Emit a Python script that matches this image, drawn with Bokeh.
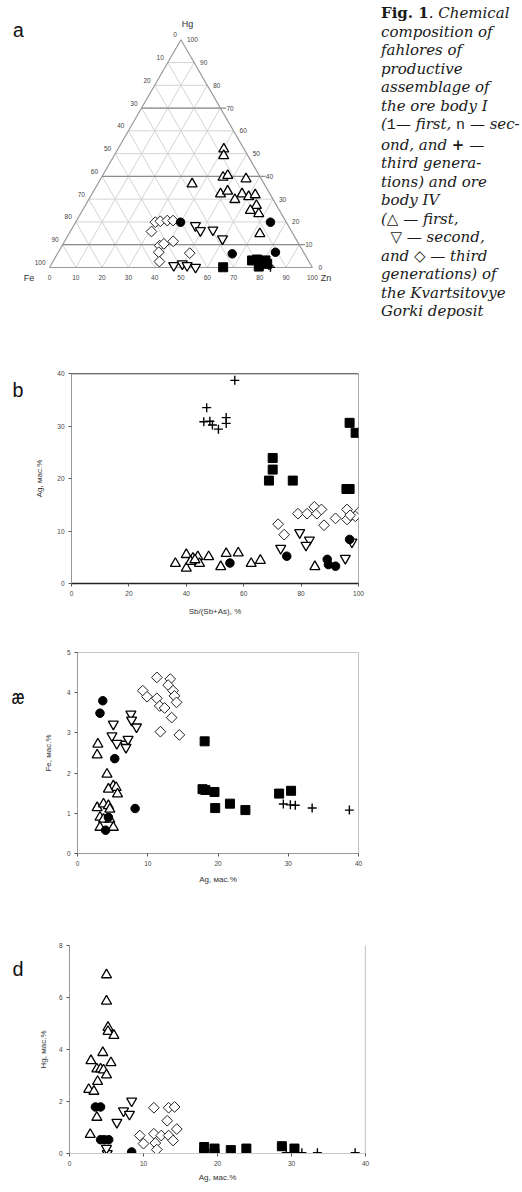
import numpy as np
from bokeh.plotting import figure
from bokeh.layouts import column, row
from bokeh.models import Div, Span, FixedTicker
from bokeh.embed import file_html
from bokeh.resources import INLINE
from bokeh.core.properties import value

# ---------------- data ----------------
# Ternary (a): Zn and Hg (Fe = 100 - Zn - Hg), atomic %
tern_I1_zn = [39.9, 74.1, 66.5, 82.6]
tern_I1_hg = [19.9, 19.9, 6.0, 6.7]
tern_I2_zn = [66.0, 75.5, 77.2, 79.4, 80.6, 82.0]
tern_I2_hg = [0.1, 3.1, 3.5, 0.4, 3.1, 1.6]
tern_I3_zn = [84.0, 83.0]
tern_I3_hg = [0.1, 0.9]
tern_IV1_zn = [40.3, 41.7, 35.9, 46.2, 47.6, 55.3, 48.9, 51.0, 55.6, 57.1, 60.2, 62.3, 65.1, 63.9, 67.8, 72.6]
tern_IV1_hg = [52.0, 49.1, 36.7, 39.6, 40.4, 38.9, 32.3, 33.5, 29.8, 32.3, 31.1, 31.9, 27.2, 25.0, 23.6, 14.8]
tern_IV2_zn = [46.3, 49.3, 53.9, 59.5, 46.8, 49.7, 51.9, 55.5]
tern_IV2_hg = [18.4, 16.2, 16.5, 12.6, 0.9, 1.6, 0.9, 0.1]
tern_IV3_zn = [30.3, 32.0, 34.5, 36.7, 30.9, 37.1, 38.3, 41.3, 38.2, 50.2, 40.5]
tern_IV3_hg = [19.9, 20.3, 20.6, 20.6, 15.8, 9.6, 10.4, 11.5, 6.7, 6.3, 2.6]
tern_ticks = [0, 10, 20, 30, 40, 50, 60, 70, 80, 90, 100]

# Panel b: Sb/(Sb+As) % vs Ag wt%
b_I1_x = [55.2, 75.0, 89.1, 89.5, 92.0, 96.9]
b_I1_y = [3.9, 5.2, 4.6, 3.6, 3.3, 8.4]
b_I2_x = [96.9, 99.0, 70.1, 70.1, 68.8, 77.1, 95.8, 96.9]
b_I2_y = [30.6, 28.7, 23.9, 21.7, 19.6, 19.6, 18.0, 18.0]
b_I3_x = [56.9, 47.1, 46.1, 48.2, 49.1, 51.2, 53.9, 53.9]
b_I3_y = [38.7, 33.5, 30.8, 30.9, 30.2, 29.4, 31.6, 30.5]
b_IV1_x = [36.2, 40.0, 40.0, 42.3, 44.0, 44.6, 47.8, 52.0, 53.9, 58.1, 62.6, 65.8, 84.8, 41.5, 43.0]
b_IV1_y = [3.8, 5.5, 2.9, 4.8, 5.1, 3.8, 5.1, 3.2, 5.7, 5.8, 3.8, 4.4, 3.2, 4.2, 4.5]
b_IV2_x = [79.5, 82.9, 81.7, 72.9, 95.4, 97.7]
b_IV2_y = [9.7, 8.3, 7.3, 6.7, 4.8, 7.9]
b_IV3_x = [72.0, 74.1, 78.9, 82.1, 84.6, 85.5, 87.1, 88.0, 92.0, 96.0, 96.0, 100.0, 98.9, 97.1]
b_IV3_y = [11.3, 9.3, 13.3, 13.3, 14.6, 13.3, 14.1, 11.1, 12.4, 14.1, 12.2, 13.5, 12.8, 13.0]

# Panel c: Ag wt% vs Fe wt%
c_I1_x = [3.6, 3.2, 5.3, 8.2, 4.4, 4.0]
c_I1_y = [3.80, 3.49, 2.36, 1.12, 0.90, 0.58]
c_I2_x = [18.1, 17.8, 18.2, 19.5, 19.6, 21.7, 23.9, 28.7, 30.4]
c_I2_y = [2.79, 1.60, 1.58, 1.53, 1.13, 1.24, 1.08, 1.49, 1.56]
c_I3_x = [29.3, 30.3, 31.0, 33.4, 38.7]
c_I3_y = [1.23, 1.21, 1.20, 1.13, 1.08]
c_IV1_x = [2.9, 2.8, 4.2, 5.1, 5.5, 4.4, 5.7, 2.8, 3.7, 4.4, 4.6, 3.2, 3.7, 4.6, 3.2, 5.1]
c_IV1_y = [2.72, 2.45, 1.97, 1.68, 1.64, 1.60, 1.48, 1.14, 1.23, 1.19, 1.10, 0.90, 0.85, 0.85, 0.65, 0.65]
c_IV2_x = [5.1, 4.9, 7.6, 7.7, 8.4, 6.8, 7.2, 6.9, 5.6]
c_IV2_y = [3.22, 2.93, 3.47, 3.32, 3.15, 2.72, 2.84, 2.64, 2.74]
c_IV3_x = [11.3, 13.2, 12.9, 13.6, 9.3, 9.9, 11.3, 11.7, 12.4, 13.8, 14.1, 13.4, 11.8, 14.5]
c_IV3_y = [4.38, 4.34, 4.19, 4.05, 4.05, 3.90, 3.86, 3.67, 3.62, 3.92, 3.76, 3.38, 3.03, 2.95]

# Panel d: Ag wt% vs Hg wt%
d_I1_x = [3.5, 4.2, 4.2, 5.3, 8.4, 4.7]
d_I1_y = [1.79, 1.79, 0.53, 0.53, 0.06, 0.53]
d_I2_x = [18.2, 18.2, 19.6, 19.6, 21.8, 23.9, 28.7, 30.4]
d_I2_y = [0.25, 0.03, 0.19, 0.0, 0.13, 0.19, 0.28, 0.19]
d_I3_x = [29.3, 30.3, 31.4, 33.5, 38.6]
d_I3_y = [0.03, 0.03, 0.03, 0.03, 0.03]
d_IV1_x = [5.0, 5.0, 5.2, 5.2, 6.0, 4.5, 2.9, 5.6, 3.7, 4.2, 4.6, 5.0, 3.8, 2.6, 3.3, 3.7, 2.8]
d_IV1_y = [6.87, 5.86, 4.85, 4.69, 4.54, 3.88, 3.57, 3.49, 3.25, 3.25, 3.21, 3.02, 2.77, 2.46, 2.39, 1.39, 0.73]
d_IV2_x = [8.4, 7.3, 8.1, 6.4, 5.1, 5.0]
d_IV2_y = [2.02, 1.64, 1.51, 1.20, 0.0, 0.2]
d_IV3_x = [11.4, 13.4, 14.2, 13.2, 14.5, 9.5, 10.0, 11.4, 12.4, 11.6, 13.4, 14.0, 11.8]
d_IV3_y = [1.76, 1.76, 1.79, 1.26, 0.94, 0.69, 0.38, 0.76, 0.69, 0.40, 0.69, 0.50, 0.15]

caption_lines = [
    "<b style='font-style:normal'>Fig. 1</b>. Chemical",
    "composition of",
    "fahlores of",
    "productive",
    "assemblage of",
    "the ore body I",
    "(<span style=\"font-style:normal;font-family:'Liberation Mono'\">1</span>\u2014 first, "
    "<span style=\"font-style:normal;font-family:'Liberation Mono'\">n</span> \u2014 sec-",
    "ond, and <b style='font-style:normal'>+</b> \u2014",
    "third genera-",
    "tions) and ore",
    "body IV",
    "(\u25b3 \u2014 first,",
    "&nbsp;&nbsp;\u25bd \u2014 second,",
    "and \u25c7 \u2014 third",
    "generations) of",
    "the Kvartsitovye",
    "Gorki deposit",
]

# ---------------- styles ----------------
STY = {
    "IV1": dict(marker="triangle", size=10, fill_color="white", line_color="black", line_width=1.3),
    "IV2": dict(marker="inverted_triangle", size=10, fill_color="white", line_color="black", line_width=1.3),
    "IV3": dict(marker="square", angle=np.pi / 4, size=7.6, fill_color="white", line_color="#222", line_width=1.0),
    "I1": dict(marker="circle", size=8.5, fill_color="black", line_color="black"),
    "I2": dict(marker="square", size=9, fill_color="black", line_color="black"),
    "I3": dict(marker="cross", size=9, line_color="black", line_width=1.4),
}
ORDER = ["IV1", "IV2", "IV3", "I1", "I2", "I3"]
SANS = "Liberation Sans"
MONO = "Liberation Mono"
S3 = np.sqrt(3) / 2


def scatter_all(p, data):
    for k in ORDER:
        xs, ys = data[k]
        p.scatter(xs, ys, **STY[k])


# ---------------- panel a: ternary ----------------
pa = figure(width=362, height=305, x_range=(-15.6, 122.1), y_range=(-17.5, 98.5),
            x_axis_type=None, y_axis_type=None, output_backend="svg",
            toolbar_location=None, min_border=0, margin=0)
pa.grid.visible = False
pa.outline_line_color = None

gx, gy = [], []
for t in tern_ticks[1:-1]:
    gx.append([t / 2, 100 - t / 2]); gy.append([t * S3, t * S3])
    gx.append([t, t + (100 - t) / 2]); gy.append([0, (100 - t) * S3])
    gx.append([100 - t, (100 - t) / 2]); gy.append([0, (100 - t) * S3])
pa.multi_line(gx, gy, line_color="#d4d4d4", line_width=1)
for h in (10, 40, 70):
    pa.line([h / 2, 100 - h / 2 + 2.2], [h * S3, h * S3], line_color="#8c8c8c", line_width=1.2)
pa.line([0, 100, 50, 0], [0, 0, 100 * S3, 0], line_color="#9a9a9a", line_width=1.2)

tt = np.array(tern_ticks, dtype=float)
labs = [str(t) for t in tern_ticks]
pa.text(tt, np.full_like(tt, -3.9), text=labs, text_font=value(SANS), text_font_size="6.5px",
        text_color="#444", text_align="center", text_baseline="middle")
pa.text(50 - tt / 2, (100 - tt) * S3, text=labs, text_font=value(SANS), text_font_size="6.5px",
        text_color="#444", text_align="right", text_baseline="middle", x_offset=-4, y_offset=-5)
pa.text(100 - (100 - tt) / 2, (100 - tt) * S3, text=[str(100 - t) for t in tern_ticks],
        text_font=value(SANS), text_font_size="6.5px", text_color="#444",
        text_align="left", text_baseline="middle", x_offset=6, y_offset=0)
pa.text([52.5, -7.8, 105.2], [92.5, -3.9, -4.1], text=["Hg", "Fe", "Zn"], text_font=value(SANS),
        text_font_size="9px", text_color="#333", text_align="center", text_baseline="middle")

tern = {}
for k, (zn, hg) in {"I1": (tern_I1_zn, tern_I1_hg), "I2": (tern_I2_zn, tern_I2_hg),
                    "I3": (tern_I3_zn, tern_I3_hg), "IV1": (tern_IV1_zn, tern_IV1_hg),
                    "IV2": (tern_IV2_zn, tern_IV2_hg), "IV3": (tern_IV3_zn, tern_IV3_hg)}.items():
    zn = np.array(zn); hg = np.array(hg)
    tern[k] = (zn + hg / 2, hg * S3)
scatter_all(pa, tern)
pa.text([-11.8], [89.7], text=["a"], text_font=value(MONO), text_font_size="20px",
        text_color="#111", text_align="center", text_baseline="middle")

cap = Div(text="<div style=\"font-family:'DejaVu Serif';font-style:italic;font-size:15px;"
               "line-height:18.5px;white-space:nowrap;color:#1a1a1a;padding-left:11px;margin-top:-4px\">"
               + "<br>".join(caption_lines) + "</div>",
          width=144, height=320, margin=0)


# ---------------- helper for xy panels ----------------
def style_axes(p, xt, yt, xlabel, ylabel, ylab_stand, xlab_stand):
    p.xaxis.ticker = FixedTicker(ticks=xt)
    p.yaxis.ticker = FixedTicker(ticks=yt)
    p.xaxis.axis_label = xlabel
    p.yaxis.axis_label = ylabel
    for ax in (p.xaxis[0], p.yaxis[0]):
        ax.major_label_text_font_size = "6.5px"
        ax.major_label_text_font = SANS
        ax.major_label_text_color = "#444"
        ax.axis_label_text_font = SANS
        ax.axis_label_text_font_size = "8px"
        ax.axis_label_text_font_style = "normal"
        ax.axis_label_text_color = "#333"
        ax.axis_line_color = "#999999"
        ax.major_tick_line_color = "#555"
        ax.major_tick_out = 3
        ax.major_tick_in = 0
        ax.minor_tick_line_color = None
        ax.major_label_standoff = 4
    p.yaxis[0].axis_label_standoff = ylab_stand
    p.xaxis[0].axis_label_standoff = xlab_stand
    p.grid.visible = False


def letter_div(txt, top, height):
    return Div(text="<div style=\"font-family:'Liberation Mono';font-size:20px;line-height:20px;"
                    "color:#111;padding-top:%dpx;padding-left:4px\">%s</div>" % (top, txt),
               width=24, height=height, margin=0)


# ---------------- panel b ----------------
pb = figure(width=482, height=295, x_range=(0, 100), y_range=(0, 40), output_backend="svg",
            toolbar_location=None, min_border_left=35, min_border_right=156,
            min_border_top=45, min_border_bottom=40, margin=0)
style_axes(pb, [0, 20, 40, 60, 80, 100], [0, 10, 20, 30, 40], "Sb/(Sb+As), %", "Ag, мас.%", 10, 8)
pb.xaxis[0].axis_line_color = "#222"
pb.xaxis[0].axis_line_width = 1.6
pb.outline_line_color = "#aaaaaa"
pb.add_layout(Span(location=40, dimension="width", line_color="#333", line_width=1.6))
scatter_all(pb, {"I1": (b_I1_x, b_I1_y), "I2": (b_I2_x, b_I2_y), "I3": (b_I3_x, b_I3_y),
                 "IV1": (b_IV1_x, b_IV1_y), "IV2": (b_IV2_x, b_IV2_y), "IV3": (b_IV3_x, b_IV3_y)})

# ---------------- panel c ----------------
pc = figure(width=482, height=282, x_range=(0, 40), y_range=(0, 5), output_backend="svg",
            toolbar_location=None, min_border_left=45, min_border_right=156,
            min_border_top=29, min_border_bottom=52, margin=0)
style_axes(pc, [0, 10, 20, 30, 40], [0, 1, 2, 3, 4, 5], "Ag, мас.%", "Fe, мас.%", 11, 6)
pc.outline_line_color = "#c4c4c4"
scatter_all(pc, {"I1": (c_I1_x, c_I1_y), "I2": (c_I2_x, c_I2_y), "I3": (c_I3_x, c_I3_y),
                 "IV1": (c_IV1_x, c_IV1_y), "IV2": (c_IV2_x, c_IV2_y), "IV3": (c_IV3_x, c_IV3_y)})

# ---------------- panel d ----------------
pd = figure(width=482, height=279, x_range=(0, 40), y_range=(0, 8), output_backend="svg",
            toolbar_location=None, min_border_left=37, min_border_right=149,
            min_border_top=40, min_border_bottom=27, margin=0)
style_axes(pd, [0, 10, 20, 30, 40], [0, 2, 4, 6, 8], "Ag, мас.%", "Hg, мас.%", 8, 4)
pd.xaxis[0].axis_line_color = "#c8c8c8"
pd.outline_line_color = None
pd.add_layout(Span(location=40, dimension="height", line_color="#999", line_width=1.2))
scatter_all(pd, {"I1": (d_I1_x, d_I1_y), "I2": (d_I2_x, d_I2_y), "I3": (d_I3_x, d_I3_y),
                 "IV1": (d_IV1_x, d_IV1_y), "IV2": (d_IV2_x, d_IV2_y), "IV3": (d_IV3_x, d_IV3_y)})

layout = column(row(pa, cap, margin=0, spacing=0),
                row(letter_div("b", 54, 295), pb, margin=0, spacing=0),
                row(letter_div("æ", 66, 282), pc, margin=0, spacing=0),
                row(letter_div("d", 56, 279), pd, margin=0, spacing=0),
                margin=(8, 0, 0, 8), spacing=0)
open("out.html", "w").write(file_html(layout, INLINE))
